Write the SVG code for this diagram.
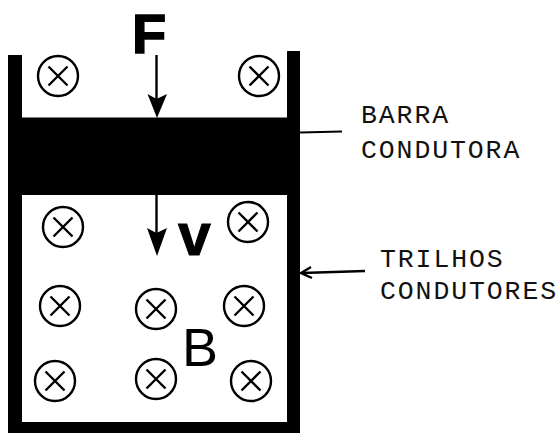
<svg xmlns="http://www.w3.org/2000/svg" width="560" height="433" viewBox="0 0 560 433">
<style>
.fc{fill:none;stroke:#000;stroke-width:2.400}
.lab{font-family:"Liberation Mono",monospace;font-size:26.500px;letter-spacing:1.900px;fill:#111}
.big{font-family:"Liberation Sans",Arial,sans-serif;fill:#000}
.sh{fill:#000}
.ln{stroke:#000;fill:none}
</style>
<defs>
<g id="x"><circle class="fc" r="20"/><path class="fc" d="M-9.500-9.500L9.500 9.500M-9.500 9.500L9.500-9.500"/></g>
</defs>
<rect width="560" height="433" fill="#fff"/>
<g id="frame">
<path class="sh" d="M8 55H22V422H287V51H300V433H8Z"/>
</g>
<g id="barra"><rect class="sh" x="8" y="117.500" width="292" height="77.500"/></g>
<g id="connectors">
<path class="ln" stroke-width="2.400" d="M156.500 55V100"/>
<path class="sh" d="M147.500 94L156.500 99L167 94L157 118Z"/>
<path class="ln" stroke-width="2.400" d="M156.500 195V235"/>
<path class="sh" d="M147 228L156.500 233L167 228L157 256Z"/>
<path class="ln" stroke-width="2.200" d="M300 132.500L342 131.500"/>
<path class="ln" stroke-width="2.600" d="M302 273L365 271"/>
<path class="ln" stroke-width="2.400" d="M311 267L301 273L312 278"/>
</g>
<g id="campo">
<use href="#x" x="58" y="76"/>
<use href="#x" x="259" y="76"/>
<use href="#x" x="63" y="227"/>
<use href="#x" x="248" y="222"/>
<use href="#x" x="60" y="306"/>
<use href="#x" x="156" y="309"/>
<use href="#x" x="244" y="306"/>
<use href="#x" x="55" y="381"/>
<use href="#x" x="156" y="379"/>
<use href="#x" x="251" y="381"/>
</g>
<g id="labels">
<text class="big" x="132" y="52.500" font-size="56" font-weight="700" stroke="#000" stroke-width="1.500">F</text>
<text class="big" x="178" y="254.500" font-size="59" font-weight="700" stroke="#000" stroke-width="1">v</text>
<text class="big" x="182" y="366" font-size="54">B</text>
<text class="lab" x="361" y="123">BARRA</text>
<text class="lab" x="361" y="158">CONDUTORA</text>
<text class="lab" x="380" y="267">TRILHOS</text>
<text class="lab" x="380" y="299">CONDUTORES</text>
</g>
</svg>
